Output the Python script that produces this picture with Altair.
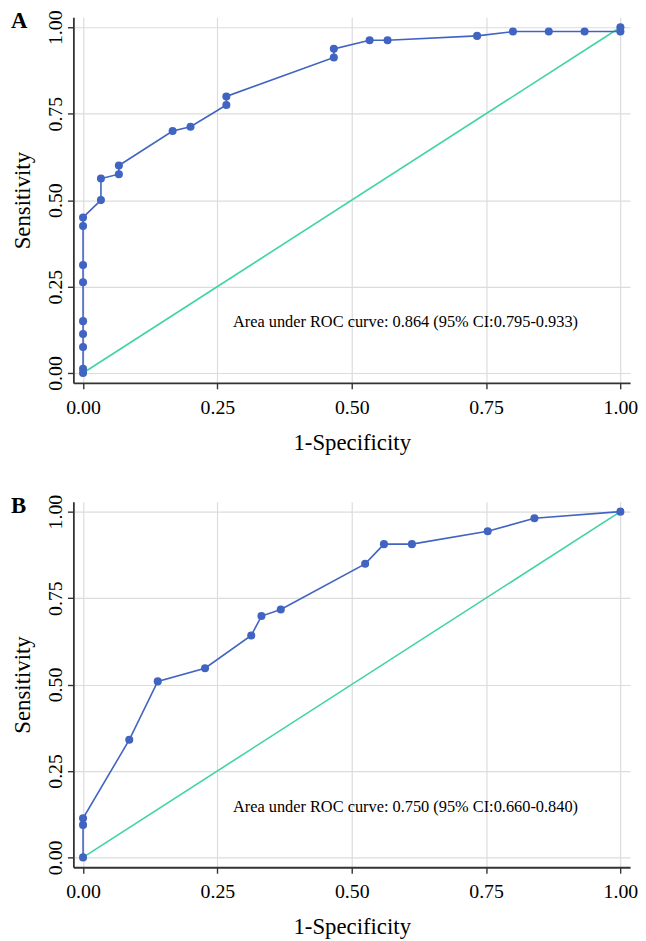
import altair as alt
import pandas as pd

# Panel A ROC points (1-Specificity, Sensitivity)
A_fpr = [0, 0, 0, 0, 0, 0, 0, 0, 0,
         0.0333, 0.0333, 0.0667, 0.0667, 0.1667, 0.2, 0.2667, 0.2667,
         0.4667, 0.4667, 0.5333, 0.5667, 0.7333, 0.8, 0.8667, 0.9333, 1.0, 1.0]
A_tpr = [0, 0.0125, 0.075, 0.1125, 0.15, 0.2625, 0.3125, 0.425, 0.45,
         0.5, 0.5625, 0.575, 0.6, 0.7, 0.7125, 0.775, 0.8,
         0.9125, 0.9375, 0.9625, 0.9625, 0.975, 0.9875, 0.9875, 0.9875, 0.9875, 1.0]
A_text = "Area under ROC curve: 0.864 (95% CI:0.795-0.933)"

# Panel B ROC points
B_fpr = [0, 0, 0, 0.086, 0.139, 0.227, 0.313, 0.332, 0.368,
         0.525, 0.560, 0.612, 0.753, 0.840, 1.0]
B_tpr = [0, 0.094, 0.113, 0.340, 0.509, 0.547, 0.642, 0.698, 0.717,
         0.849, 0.906, 0.906, 0.943, 0.981, 1.0]
B_text = "Area under ROC curve: 0.750 (95% CI:0.660-0.840)"

ticks = [0, 0.25, 0.5, 0.75, 1.0]
diag_x = [0, 1]
diag_y = [0, 1]

BLUE = "#4164c2"
GREEN = "#3fd4a0"
FONT = "Liberation Serif"


def panel(fpr, tpr, letter, label):
    df = pd.DataFrame({"fpr": fpr, "tpr": tpr, "order": list(range(len(fpr)))})
    diag = pd.DataFrame({"fpr": diag_x, "tpr": diag_y})
    ann = pd.DataFrame({"fpr": [0.6], "tpr": [0.132], "t": [label]})
    let = pd.DataFrame({"t": [letter]})

    xs = alt.Scale(domain=[-0.018, 1.018], nice=False, zero=False)
    ys = alt.Scale(domain=[-0.0286, 1.0286], nice=False, zero=False)
    xax = alt.Axis(values=ticks, format=".2f", title="1-Specificity",
                   labelPadding=9, titlePadding=14)
    yax = alt.Axis(values=ticks, format=".2f", title="Sensitivity",
                   labelAngle=270, labelAlign="center", labelBaseline="bottom",
                   labelPadding=2, titlePadding=11)

    x = alt.X("fpr:Q", scale=xs, axis=xax)
    y = alt.Y("tpr:Q", scale=ys, axis=yax)

    curve = alt.Chart(df).mark_line(color=BLUE, strokeWidth=1.6).encode(
        x=x, y=y, order="order:Q")
    pts = alt.Chart(df).mark_circle(color=BLUE, size=66, opacity=1).encode(x=x, y=y)
    dline = alt.Chart(diag).mark_line(color=GREEN, strokeWidth=1.6).encode(x=x, y=y)
    txt = alt.Chart(ann).mark_text(font=FONT, fontSize=16.5, color="black",
                                   align="center", baseline="alphabetic").encode(
        x=x, y=y, text="t:N")
    lt = alt.Chart(let).mark_text(font=FONT, fontSize=23, fontWeight="bold",
                                  color="black", align="left",
                                  baseline="alphabetic").encode(
        x=alt.value(-63), y=alt.value(11), text="t:N")
    return alt.layer(dline, curve, pts, txt, lt).properties(width=562, height=369)


chart = alt.vconcat(
    panel(A_fpr, A_tpr, "A", A_text),
    panel(B_fpr, B_tpr, "B", B_text),
    spacing=40,
).properties(
    padding={"top": -3, "left": 3, "right": 0, "bottom": 0},
    background="white",
).configure_view(
    stroke=None
).configure_axis(
    labelFont=FONT, labelFontSize=20, labelColor="black",
    titleFont=FONT, titleFontSize=23, titleFontWeight="normal", titleColor="black",
    gridColor="#dcdcdc", gridWidth=1.2,
    domainColor="#333333", domainWidth=1.8,
    tickColor="#333333", tickSize=6, tickWidth=1.4,
)

chart.save("out.html", embed_options={"renderer": "svg", "actions": False})
